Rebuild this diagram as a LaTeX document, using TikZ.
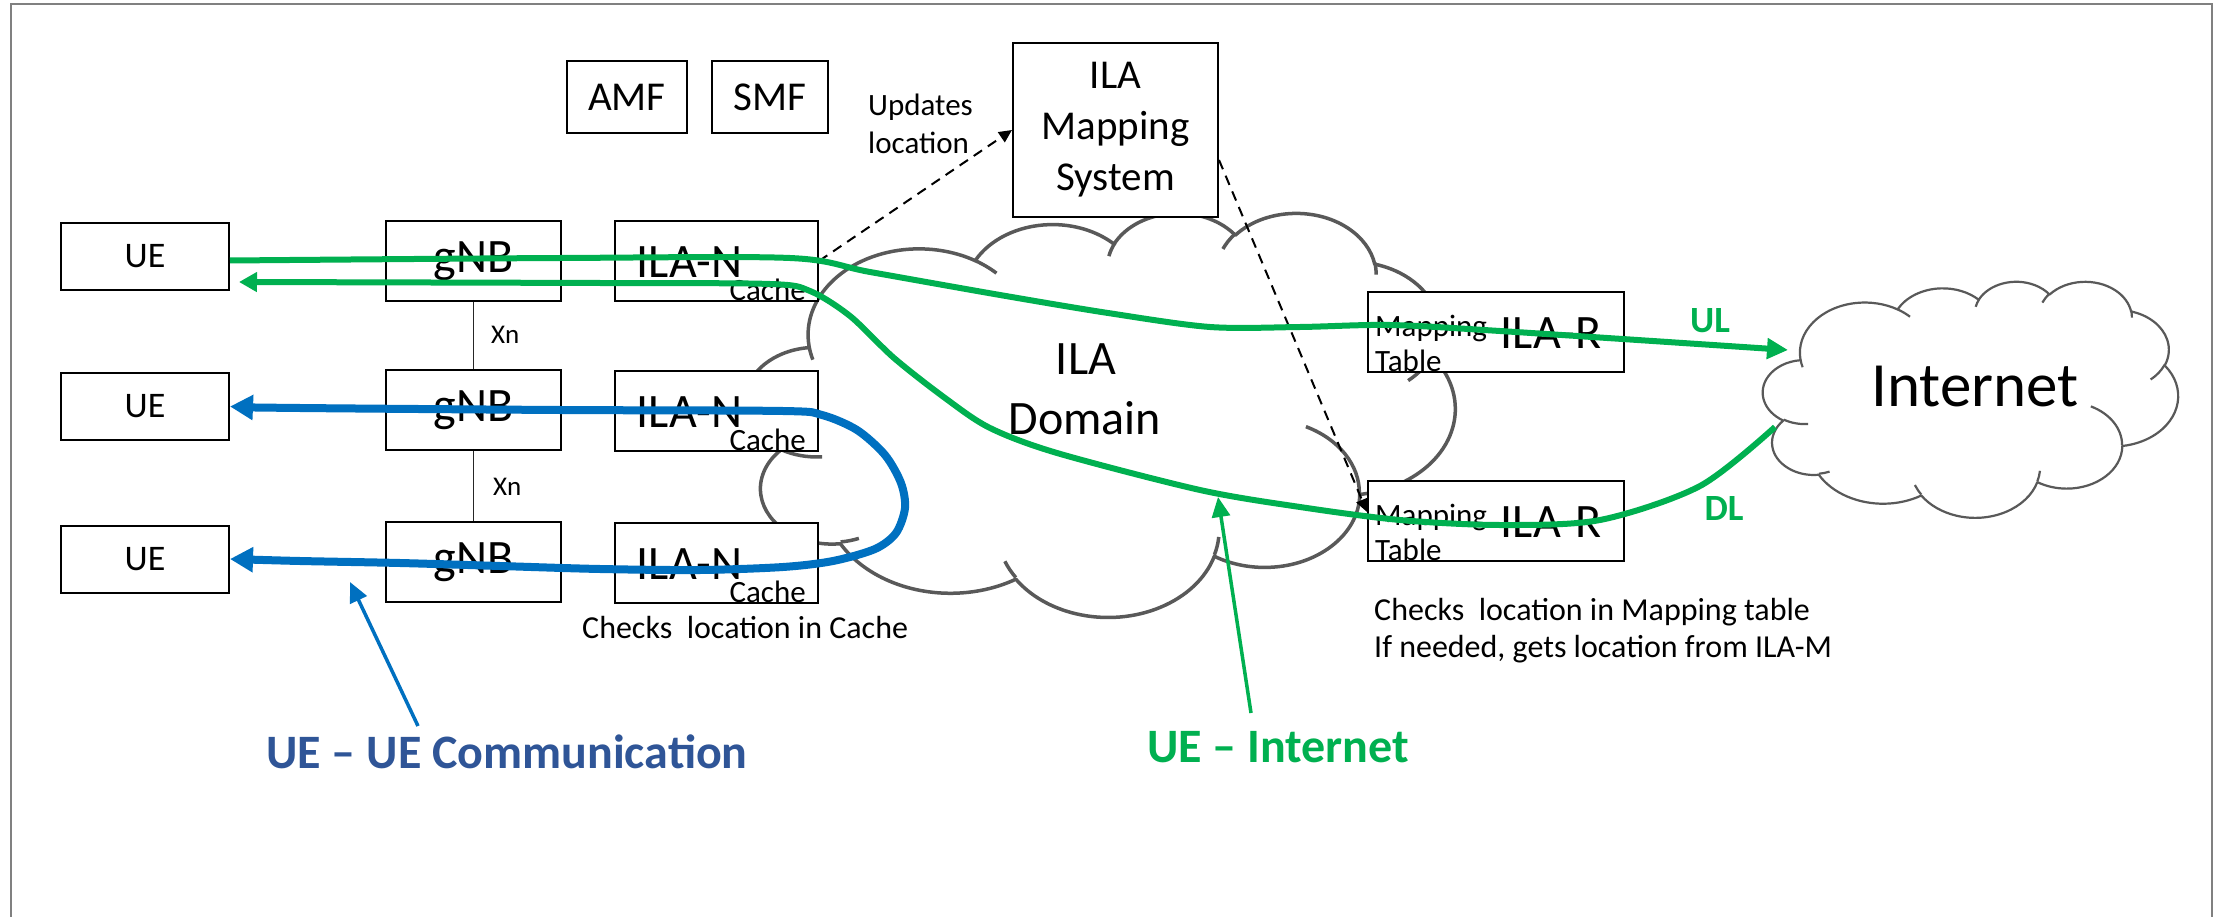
\documentclass[tikz,border=0pt]{standalone}
\usepackage{fontspec}
\setmainfont{Carlito}
\usetikzlibrary{arrows.meta}
\definecolor{pgreen}{HTML}{00B050}
\definecolor{pblue}{HTML}{0070C0}
\definecolor{dblue}{HTML}{2F5597}
\definecolor{cloudgray}{HTML}{595959}
\definecolor{framegray}{HTML}{808080}
\newcommand\fsz[2]{\fontsize{#1}{#2}\selectfont}

\makeatletter
% PowerPoint-style arcTo: radii, start angle and sweep (visual angles) -> TikZ parametric arc
\newcommand\defcloudarc[5]{%
  \pgfmathsetmacro\cl@a{#4}%
  \pgfmathsetmacro\cl@b{#4+#5}%
  \pgfmathsetmacro\cl@ts{atan2((#2)*sin(\cl@a),(#3)*cos(\cl@a))}%
  \pgfmathsetmacro\cl@te{atan2((#2)*sin(\cl@b),(#3)*cos(\cl@b))}%
  \pgfmathsetmacro\cl@d{\cl@te-\cl@ts}%
  \pgfmathsetmacro\cl@d{\cl@d+360*((#5)>0)*(\cl@d<0)-360*((#5)<0)*(\cl@d>0)}%
  \pgfmathsetmacro\cl@te{\cl@ts+\cl@d}%
  \edef\cl@tmp{\noexpand\tikzset{#1/.style={x radius=#2,y radius=#3,start angle=\cl@ts,end angle=\cl@te}}}%
  \cl@tmp}
\makeatother

\defcloudarc{cpA}{67.53}{91.90}{-190.48748}{123.78053}
\defcloudarc{cpB}{53.33}{72.67}{-144.10238}{89.94523}
\defcloudarc{cpC}{43.65}{59.45}{-145.80792}{99.72302}
\defcloudarc{cpD}{48.57}{65.95}{-130.98607}{117.24173}
\defcloudarc{cpE}{53.33}{72.73}{-78.70888}{109.02692}
\defcloudarc{cpF}{67.75}{92.20}{-46.26725}{130.26900}
\defcloudarc{cpG}{57.85}{78.67}{0.62502}{114.03333}
\defcloudarc{cpH}{67.52}{92.15}{22.45160}{115.17255}
\defcloudarc{cpI}{77.20}{105.43}{66.24263}{75.71102}
\defcloudarc{cpJ}{43.60}{59.18}{-274.94208}{146.73557}
\defcloudarc{cpK}{43.45}{59.45}{-246.82850}{152.51885}
\defcloudarc{ciA}{43.45}{59.45}{86.74200}{26.42950}
\defcloudarc{ciB}{43.60}{59.18}{73.61047}{11.44747}
\defcloudarc{ciC}{67.52}{92.15}{137.62415}{14.08110}
\defcloudarc{ciD}{67.52}{92.15}{6.45327}{15.99835}
\defcloudarc{ciE}{57.85}{78.67}{-70.29235}{70.91737}
\defcloudarc{ciF}{53.33}{72.73}{30.31803}{27.75150}
\defcloudarc{ciG}{48.57}{65.95}{-13.74433}{14.85890}
\defcloudarc{ciH}{48.57}{65.95}{-149.18145}{18.19537}
\defcloudarc{ciI}{43.65}{59.45}{-163.49427}{17.68635}
\defcloudarc{ciJ}{67.53}{91.90}{-66.70695}{12.31935}
\defcloudarc{ciK}{67.53}{91.90}{157.65435}{11.85817}

\newcommand\pptcloud[5]{%
\begin{scope}[shift={(#1,#2)},xscale=#3/432,yscale=#4/432]
 \draw[draw=cloudgray,line width=#5,fill=white,line join=round]
   (39.00,143.70) arc[cpA] arc[cpB] arc[cpC] arc[cpD] arc[cpE] arc[cpF]
   arc[cpG] arc[cpH] arc[cpI] arc[cpJ] arc[cpK] -- cycle;
 \draw[draw=cloudgray,line width=#5]
   (46.93,261.77) arc[ciA] (69.28,348.99) arc[ciB] (164.78,390.90) arc[ciC]
   (288.27,347.51) arc[ciD] (341.29,229.54) arc[ciE] (417.98,153.54) arc[ciF]
   (383.24,54.26) arc[ciG] (290.78,39.52) arc[ciH] (221.41,47.20) arc[ciI]
   (140.00,51.92) arc[ciJ] (41.27,157.89) arc[ciK];
\end{scope}}

\tikzset{
  box/.style={draw=black, line width=2pt, fill=white, inner sep=0pt, text=black},
  uebox/.style={box, minimum width=168pt, minimum height=67pt, font=\fsz{36}{43}},
  gnbbox/.style={box, minimum width=175pt, minimum height=80pt, font=\fsz{48}{58}},
  ilanbox/.style={box, minimum width=203pt, minimum height=80pt},
  ilarbox/.style={box, minimum width=256pt, minimum height=80pt},
  bigtxt/.style={font=\fsz{48}{58}, inner sep=0pt},
  smalltxt/.style={font=\fsz{31}{37}, inner sep=0pt},
  notetxt/.style={font=\fsz{32}{38}, inner sep=0pt},
  gline/.style={draw=pgreen, line width=6pt},
  bline/.style={draw=pblue, line width=8pt},
  ptrline/.style={line width=3.5pt},
  dashline/.style={draw=black, line width=2pt, dash pattern=on 10pt off 7pt},
  xnline/.style={draw=black!85, line width=1.3pt},
}

\begin{document}
\begin{tikzpicture}[x=1pt,y=-1pt]
\fill[white] (0,0) rectangle (2221,917);
\useasboundingbox (0,0) rectangle (2221,917);
\draw[framegray, line width=2pt] (11,917) -- (11,4) -- (2212,4) -- (2212,917);

% clouds
\pptcloud{745}{212}{710}{404}{3.5pt}
\pptcloud{1763}{281}{415}{236}{2.2pt}
\node[bigtxt, anchor=base] (ilaD1) at (1086,374) {ILA};
\node[bigtxt, anchor=base] (ilaD2) at (1085,434) {Domain};
\node[font=\fsz{63}{75}, inner sep=0pt, anchor=base] (inet) at (1975,406) {Internet};

% top boxes
\node[box, minimum width=120pt, minimum height=72pt, font=\fsz{41}{49}] (amf) at (627,97) {AMF};
\node[box, minimum width=116pt, minimum height=72pt, font=\fsz{41}{49}] (smf) at (770,97) {SMF};
\node[box, minimum width=205pt, minimum height=174pt, align=center, font=\fsz{41}{51}] (ilams) at (1115.5,130) {ILA\\Mapping\\System};

% UE
\node[uebox] (ue1) at (145,256.5) {UE};
\node[uebox] (ue2) at (145,406.5) {UE};
\node[uebox] (ue3) at (145,559) {UE};
% gNB
\node[gnbbox] (gnb1) at (473.5,261) {gNB};
\node[gnbbox] (gnb2) at (473.5,410) {gNB};
\node[gnbbox] (gnb3) at (473.5,562) {gNB};
% ILA-N
\foreach \i/\yy in {1/261,2/411,3/563}{
  \node[ilanbox] (ilan\i) at (716.5,\yy) {};
  \node[bigtxt] (ilanT\i) at ([xshift=-27pt,yshift=-1.5pt]ilan\i.center) {ILA-N};
  \node[smalltxt, anchor=base east] (cache\i) at ([xshift=-13pt,yshift=2pt]ilan\i.south east) {Cache};
}
% ILA-R
\foreach \i/\yy in {1/332,2/521}{
  \node[ilarbox] (ilar\i) at (1496,\yy) {};
  \node[bigtxt] (ilarT\i) at ([xshift=55pt,yshift=-1pt]ilar\i.center) {ILA-R};
  \node[smalltxt, anchor=base west] (map\i) at ([xshift=8pt,yshift=-45pt]ilar\i.north west) {Mapping};
  \node[smalltxt, anchor=base west] (tab\i) at ([xshift=8pt,yshift=-80pt]ilar\i.north west) {Table};
}

% Xn links
\draw[xnline] (gnb1.south) -- (gnb2.north);
\draw[xnline] (gnb2.south) -- (gnb3.north);
\node[font=\fsz{27}{32}, inner sep=0pt, anchor=base west] (xn1) at (491,343) {Xn};
\node[font=\fsz{27}{32}, inner sep=0pt, anchor=base west] (xn2) at (493,495) {Xn};

% dashed signalling
\draw[dashline, -{Triangle[length=13pt,width=12pt]}] (ilan1.east) -- (ilams.west);
\draw[dashline, -{Triangle[length=13pt,width=12pt]}] ([yshift=-30pt]ilams.east) -- ([yshift=9pt]ilar2.west);
\node[smalltxt, anchor=base west] (upd1) at (868,116) {Updates};
\node[smalltxt, anchor=base west] (upd2) at (868,154) {location};

% green UL / DL
\coordinate (inetUL) at (1788,350);
\coordinate (inetDL) at (1775,427);
\draw[gline, -{Triangle[length=21pt,width=20pt]}] plot[smooth, tension=0.5] coordinates {([yshift=-4pt]ue1.east) (560,258) (790,258) (870,272) (1000,295) (1108,313) (1210,327) (1300,327) (1390,325) (1500,331) (inetUL)};
\draw[gline, -{Triangle[length=18pt,width=19pt]}] plot[smooth, tension=0.5] coordinates {(inetDL) (1700,486) (1600,520) (1500,525) (1400,520) (1300,507) (1200,490) (1057,453) (990,428) (945,398) (894,358) (850,316) (810,291) (770,284) (600,283) ([xshift=9pt,yshift=-25.5pt]ue1.east)};

% blue UE-UE
\draw[bline, {Triangle[length=23pt,width=24pt]}-{Triangle[length=23pt,width=24pt]}] plot[smooth, tension=0.5] coordinates {(ue2.east) (300,408) (560,410) (783,411) (822,415) (857,430) (885,455) (901,483) (905,508) (896,533) (875,549) (833,561) (783,567) (700,570) (600,569) (500,566) (400,563) (300,561) (ue3.east)};

% labels
\node[font=\fsz{37}{44}\bfseries, text=pgreen, inner sep=0pt] (ul) at (1710,321) {UL};
\node[font=\fsz{37}{44}\bfseries, text=pgreen, inner sep=0pt] (dl) at (1724,509) {DL};
\node[notetxt, anchor=base west] (chk1) at (582,638) {Checks\ \ location in Cache};
\node[notetxt, anchor=base west] (chk2) at (1374,620) {Checks\ \ location in Mapping table};
\node[notetxt, anchor=base west] (chk3) at (1374,657) {If needed, gets location from ILA-M};

\node[font=\fsz{48}{57}\bfseries, text=dblue, inner sep=0pt, anchor=base] (ueue) at (507,768) {UE – UE Communication};
\node[font=\fsz{48}{57}\bfseries, text=pgreen, inner sep=0pt, anchor=base] (uein) at (1278,762) {UE – Internet};

\coordinate (ueueTail) at (418,726);
\coordinate (ueueTip) at (350,582);
\draw[pblue, ptrline, -{Triangle[length=20pt,width=18pt]}] (ueueTail) -- (ueueTip);
\coordinate (ueinTail) at (1251,713);
\coordinate (ueinTip) at (1218,497);
\draw[pgreen, ptrline, -{Triangle[length=20pt,width=18pt]}] (ueinTail) -- (ueinTip);
\end{tikzpicture}
\end{document}
